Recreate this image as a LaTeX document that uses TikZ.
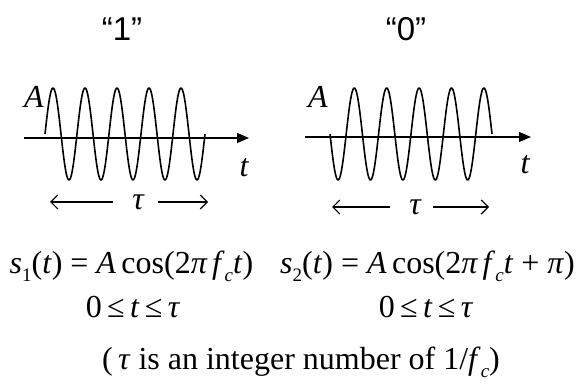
\documentclass[tikz,border=0pt]{standalone}
\usepackage{fontspec}
\setmainfont{Liberation Serif}
\newfontfamily\labelfont{Liberation Sans}
\usetikzlibrary{arrows.meta}

\newcommand{\vi}[1]{\textit{#1}}
\newcommand{\lowsub}[1]{\raisebox{-0.28em}{\fontsize{19}{19}\selectfont #1}}

\tikzset{
  wave/.style={line width=1.6pt, line join=round},
  axisline/.style={line width=1.3pt, -{Triangle[length=12pt,width=10pt]}},
  span/.style={line width=1.1pt, -{Straight Barb[length=7pt,width=14pt]}},
  eq/.style={anchor=base, inner sep=0pt, font=\fontsize{32}{36}\selectfont},
  var/.style={inner sep=0pt, font=\fontsize{32}{36}\selectfont\itshape},
  bit/.style={inner sep=0pt, font=\fontsize{33}{36}\selectfont\labelfont}
}

\begin{document}
\begin{tikzpicture}[x=1pt,y=-1pt]
	\useasboundingbox (0,0) rectangle (579,385);
	% bit labels
	\node[bit] (B1) at (122,29) {“1”};
	\node[bit] (B0) at (406,29) {“0”};
	% left carrier
	\coordinate (X1s) at (24,138);
	\coordinate (X1e) at (249,138);
	\draw[axisline] (X1s) -- (X1e);
	\draw[wave] plot[domain=45:205, samples=220, smooth] (\x, {134 - 46*sin(11.25*(\x-45))});
	\node[var] (A1) at (34,97) {A};
	\node[var] (T1) at (244,168) {t};
	\node[var] (tau1) at (138,202) {τ};
	\coordinate (L1a) at (113,202);
	\coordinate (L1b) at (50,202);
	\coordinate (R1a) at (158,202);
	\coordinate (R1b) at (208,202);
	\draw[span] (L1a) -- (L1b);
	\draw[span] (R1a) -- (R1b);
	% right carrier
	\coordinate (X2s) at (305,137);
	\coordinate (X2e) at (531,137);
	\draw[axisline] (X2s) -- (X2e);
	\draw[wave] plot[domain=330:492, samples=220, smooth] (\x, {134 + 46*sin(11.111*(\x-330))});
	\node[var] (A2) at (318,97) {A};
	\node[var] (T2) at (525,165) {t};
	\node[var] (tau2) at (415,207) {τ};
	\coordinate (L2a) at (390,207);
	\coordinate (L2b) at (332,207);
	\coordinate (R2a) at (433,207);
	\coordinate (R2b) at (489,207);
	\draw[span] (L2a) -- (L2b);
	\draw[span] (R2a) -- (R2b);
	% formulas
	\node[eq] (S1) at (131.5,273) {\vi{s}\lowsub{1}(\vi{t}) = \vi{A}\,cos(2\vi{π\,f}\lowsub{\vi{c}}\vi{t})};
	\node[eq] (S2) at (427.5,273) {\vi{s}\lowsub{2}(\vi{t}) = \vi{A}\,cos(2\vi{π\,f}\lowsub{\vi{c}}\vi{t} + \vi{π})};
	\node[eq] (D1) at (133,317) {0\,≤\,\vi{t}\,≤\,\vi{τ}};
	\node[eq] (D2) at (426,317) {0\,≤\,\vi{t}\,≤\,\vi{τ}};
	\node[eq] (note) at (301,369) {(\,\vi{τ} is an integer number of 1/\vi{f}\lowsub{\vi{c}})};
\end{tikzpicture}
\end{document}
